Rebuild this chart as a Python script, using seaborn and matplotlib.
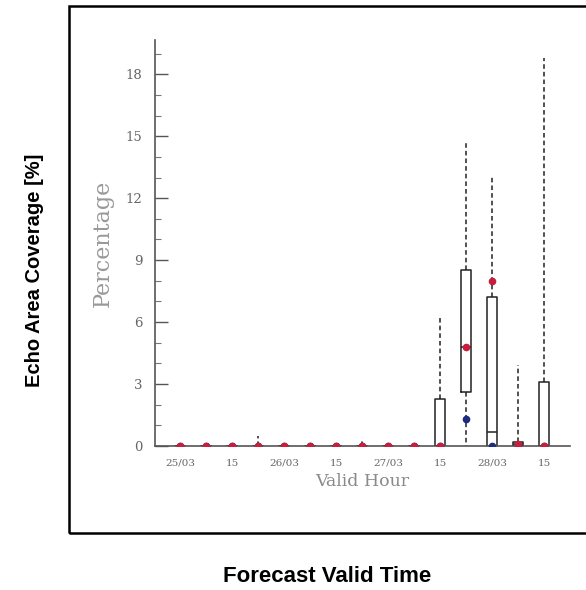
import numpy as np
import pandas as pd
import matplotlib
matplotlib.use("Agg")
import matplotlib.pyplot as plt
from matplotlib.ticker import MultipleLocator
from matplotlib.patches import Rectangle
import seaborn as sns

# ---- data ----
slots = [str(i) for i in range(15)]
tick_labels = ['25/03', '', '15', '', '26/03', '', '15', '', '27/03', '', '15', '', '28/03', '', '15']
whis_low  = [0, 0, 0, 0,   0, 0, 0, 0,   0, 0, 0,   0,    0,    0,   0]
q1        = [0, 0, 0, 0,   0, 0, 0, 0,   0, 0, 0,   2.6,  0,    0,   0]
median    = [0, 0, 0, 0,   0, 0, 0, 0,   0, 0, 0,   4.8,  0.7,  0.1, 0]
q3        = [0, 0, 0, 0,   0, 0, 0, 0,   0, 0, 2.3, 8.5,  7.2,  0.2, 3.1]
whis_high = [0, 0, 0, 0.5, 0, 0, 0, 0.3, 0, 0, 6.3, 14.7, 13.1, 3.9, 18.8]
red_pts   = [0, 0, 0, 0,   0, 0, 0, 0,   0, 0, 0,   4.8,  8.0,  0.1, 0]
blue_pts  = [0, 0, 0, 0,   0, 0, 0, 0,   0, 0, 0,   1.3,  0,    0,   0]

# five-number summary per slot -> long table (percentiles of 5 values reproduce it exactly)
rows = []
for s, a, b, c, d, e in zip(slots, whis_low, q1, median, q3, whis_high):
    for v in (a, b, c, d, e):
        rows.append({'slot': s, 'value': v})
box_df = pd.DataFrame(rows)
pts_df = pd.DataFrame({'slot': slots, 'red': red_pts, 'blue': blue_pts})

sns.set_theme(style='white')
W, H = 586, 590
fig = plt.figure(figsize=(W / 100, H / 100), dpi=100)
fig.patch.set_facecolor('white')

ax = fig.add_axes([155 / W, 1 - 446 / H, (570 - 155) / W, (446 - 40) / H])
ax.set_facecolor('white')

sns.boxplot(data=box_df, x='slot', y='value', order=slots, ax=ax,
            whis=(0, 100), width=0.38, fill=False, color='#222222',
            linewidth=1.1, showfliers=False, showcaps=False,
            boxprops={'color': '#222222', 'linewidth': 1.1},
            whiskerprops={'linestyle': (0, (3, 2)), 'linewidth': 1.1, 'color': '#222222'},
            medianprops={'color': '#222222', 'linewidth': 1.1})

sns.stripplot(data=pts_df, x='slot', y='blue', order=slots, ax=ax, jitter=False,
              color='#1c2a80', size=5.5, linewidth=0, zorder=3)
sns.stripplot(data=pts_df, x='slot', y='red', order=slots, ax=ax, jitter=False,
              color='#c81e3c', size=5.5, linewidth=0, zorder=4)

ax.set_xlim(-0.96, 15.0)
ax.set_ylim(0, 19.66)
ax.set_xticks(range(len(slots)))
ax.set_xticklabels(tick_labels, fontfamily='DejaVu Serif', fontsize=7.5, color='#666666')
ax.tick_params(axis='x', length=0, pad=9)
ax.yaxis.set_major_locator(MultipleLocator(3))
ax.yaxis.set_minor_locator(MultipleLocator(1))
ax.tick_params(axis='y', which='major', direction='in', length=9.5, width=1,
               color='#555555', pad=9, labelsize=9.5, labelcolor='#666666', left=True)
ax.tick_params(axis='y', which='minor', direction='in', length=4.3, width=0.8,
               color='#777777', left=True)
for lab in ax.get_yticklabels():
    lab.set_fontfamily('DejaVu Serif')
ax.set_xlabel('')
ax.set_ylabel('')
for side in ('top', 'right'):
    ax.spines[side].set_visible(False)
for side in ('left', 'bottom'):
    ax.spines[side].set_color('#555555')
    ax.spines[side].set_linewidth(1.2)
ax.grid(False)

fig.text(103 / W, 1 - 243 / H, 'Percentage', rotation=90, ha='center', va='center',
         fontfamily='DejaVu Serif', fontsize=16, color='#999999')
fig.text(362 / W, 1 - 481 / H, 'Valid Hour', ha='center', va='center',
         fontfamily='DejaVu Serif', fontsize=12.5, color='#8a8a8a')
fig.text(35 / W, 1 - 270 / H, 'Echo Area Coverage [%]', rotation=90, ha='center', va='center',
         fontfamily='Liberation Sans', fontweight='bold', fontsize=14.5, color='black')
fig.text(327 / W, 1 - 577 / H, 'Forecast Valid Time', ha='center', va='center',
         fontfamily='Liberation Sans', fontweight='bold', fontsize=16, color='black')

fig.add_artist(Rectangle((69 / W, 1 - 533 / H), 1.2, (533 - 6) / H,
                         transform=fig.transFigure, fill=False, edgecolor='black',
                         linewidth=1.8, clip_on=False))

fig.savefig('out.png', dpi=100)
